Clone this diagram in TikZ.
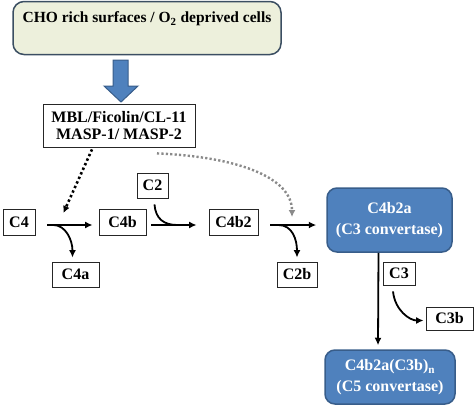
\documentclass[tikz,border=0pt]{standalone}
\usepackage{fontspec}
\setmainfont{Liberation Serif}
\usetikzlibrary{arrows.meta,calc}
\definecolor{boxblue}{HTML}{4F81BD}
\definecolor{boxblueborder}{HTML}{385D8A}
\definecolor{topfill}{HTML}{EDF0DC}
\definecolor{topborder}{HTML}{3B4E62}
\definecolor{dotgray}{HTML}{8A8A8A}
\begin{document}
\begin{tikzpicture}[x=1pt,y=-1pt,
  lbl/.style={draw=black!85, line width=0.8pt, fill=white, font=\fontsize{16}{17.5}\selectfont\bfseries, inner sep=0pt, align=center},
  bluebox/.style={draw=boxblueborder, fill=boxblue, line width=1.5pt, rounded corners=10pt, text=white, font=\fontsize{16}{20.5}\selectfont\bfseries, align=center, inner sep=0pt},
  topbox/.style={draw=topborder, fill=topfill, line width=1.5pt, rounded corners=11pt, inner sep=0pt},
  txt/.style={font=\fontsize{15.5}{17}\selectfont\bfseries, inner sep=0pt},
  flow/.style={line width=1.8pt, -{Latex[length=7.5pt,width=7pt]}},
  blackdots/.style={line width=2.6pt, dash pattern=on 2.4pt off 2.6pt, -{Latex[length=7pt,width=7pt]}},
  graydots/.style={draw=dotgray, line width=2.4pt, dash pattern=on 2.2pt off 2.2pt, -{Latex[length=7pt,width=7pt,fill=dotgray]}}
]
\useasboundingbox (0,0) rectangle (474,405);

\node[topbox, minimum width=268pt, minimum height=53pt] (top) at (147,28) {};
\node[txt] (toptext) at (147,19) {CHO rich surfaces / O\textsubscript{2} deprived cells};

\node[lbl, minimum width=152pt, minimum height=43pt] (mbl) at (119,125.5) {MBL/Ficolin/CL-11\\MASP-1/ MASP-2};

% block arrow
\draw[draw=boxblueborder, fill=boxblue, line width=1pt]
  (113,60) -- (128,60) -- (128,86) -- (138,86) -- (121,102) -- (104,86) -- (113,86) -- cycle;

\node[lbl, minimum width=32pt, minimum height=26pt] (c4) at (19,222) {C4};
\node[lbl, minimum width=47pt, minimum height=26pt] (c4b) at (122.5,222) {C4b};
\node[lbl, minimum width=47pt, minimum height=25pt] (c4a) at (75.5,274.5) {C4a};
\node[lbl, minimum width=31pt, minimum height=25pt] (c2) at (152.5,185.5) {C2};
\node[lbl, minimum width=49pt, minimum height=26pt] (c4b2) at (233.5,222) {C4b2};
\node[lbl, minimum width=40pt, minimum height=25pt] (c2b) at (297,274.5) {C2b};
\node[bluebox, minimum width=125pt, minimum height=64pt] (c3conv) at (389.5,220) {C4b2a\\(C3 convertase)};
\node[lbl, minimum width=32pt, minimum height=23pt] (c3) at (399,273.5) {C3};
\node[lbl, minimum width=47pt, minimum height=23pt] (c3b) at (449.5,318.5) {C3b};
\node[bluebox, minimum width=130pt, minimum height=54pt] (c5conv) at (390,377) {C4b2a(C3b)\textsubscript{n}\\(C5 convertase)};

% C4 -> C4b
\coordinate (s1) at ($(c4.east)+(12,3)$);
\draw[flow] (s1) -- ($(c4b.west)+(-6,3)$);
\draw[flow] ($(s1)+(6,0)$) .. controls ($(s1)+(18,0)$) and ($(c4a.north)+(-3,-22)$) .. ($(c4a.north)+(-3,-4)$);

% C2 joins C4b -> C4b2
\coordinate (s2) at ($(c4b.east)+(5,3)$);
\draw[flow] (s2) -- ($(c4b2.west)+(-12,3)$);
\draw[line width=1.8pt] ($(c2.south)+(2,6)$) .. controls ($(c2.south)+(3,20)$) and ($(s2)+(12,0)$) .. ($(s2)+(26,0)$);

% C4b2 -> C4b2a
\coordinate (s3) at ($(c4b2.east)+(12,3)$);
\draw[flow] (s3) -- ($(c3conv.west |- s3)+(-10,0)$);
\draw[flow] ($(s3)+(8,0)$) .. controls ($(s3)+(22,0)$) and ($(c2b.north)+(0,-22)$) .. ($(c2b.north)+(0,-4)$);

% C4b2a -> C5 convertase
\draw[flow] ($(c3conv.south)+(-11,0)$) -- ($(c5conv.north)+(-12,-4)$);

% C3 -> C3b
\draw[flow] ($(c3.south)+(-6,6)$) .. controls ($(c3.south)+(-4,25)$) and ($(c3b.west)+(-16,2)$) .. ($(c3b.west)+(-2,2)$);

% dotted activation arrows
\draw[blackdots] ($(mbl.south)+(-27,2)$) -- ($(c4.east)+(28,-9)$);
\draw[graydots] ($(mbl.south)+(38,6)$) .. controls (240,157) and (292,178) .. (292,217);
\end{tikzpicture}
\end{document}
